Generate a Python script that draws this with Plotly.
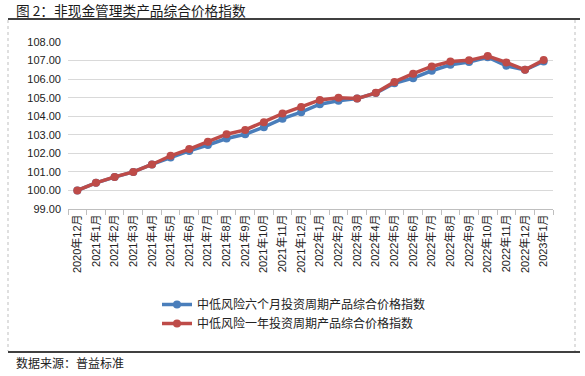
import plotly.graph_objects as go

months = ["2020年12月", "2021年1月", "2021年2月", "2021年3月", "2021年4月", "2021年5月",
          "2021年6月", "2021年7月", "2021年8月", "2021年9月", "2021年10月", "2021年11月",
          "2021年12月", "2022年1月", "2022年2月", "2022年3月", "2022年4月", "2022年5月",
          "2022年6月", "2022年7月", "2022年8月", "2022年9月", "2022年10月", "2022年11月",
          "2022年12月", "2023年1月"]

six_month = [100.00, 100.41, 100.72, 101.00, 101.40, 101.78, 102.13, 102.45, 102.80, 103.03,
             103.41, 103.87, 104.22, 104.65, 104.83, 104.95, 105.25, 105.78, 106.05, 106.45,
             106.77, 106.92, 107.18, 106.72, 106.50, 106.95]

one_year = [100.00, 100.41, 100.73, 101.00, 101.40, 101.87, 102.23, 102.63, 103.03, 103.26,
            103.68, 104.14, 104.50, 104.88, 105.00, 104.95, 105.26, 105.85, 106.29, 106.68,
            106.95, 107.01, 107.24, 106.90, 106.50, 107.03]

series_names = ["中低风险六个月投资周期产品综合价格指数", "中低风险一年投资周期产品综合价格指数"]
y_ticks = [99, 100, 101, 102, 103, 104, 105, 106, 107, 108]

title_text = "图 2：非现金管理类产品综合价格指数"
source_text = "数据来源：普益标准"

BLUE = "#4A7EBB"
RED = "#BE4B48"
CJK = "Noto Sans CJK SC"
LAT = "Liberation Sans, Noto Sans CJK SC"

W, H = 585, 376
L, R, T, B = 68, 553, 42, 209
pw, ph = R - L, B - T

def px(x):
    return (x - L) / pw

def py(y):
    return (B - y) / ph

fig = go.Figure()
fig.add_trace(go.Scatter(x=months, y=six_month, name=series_names[0], mode="lines+markers",
                         line=dict(color=BLUE, width=3.5), marker=dict(color=BLUE, size=8)))
fig.add_trace(go.Scatter(x=months, y=one_year, name=series_names[1], mode="lines+markers",
                         line=dict(color=RED, width=3.5), marker=dict(color=RED, size=8)))

fig.update_layout(
    width=W, height=H,
    margin=dict(l=L, r=W - R, t=T, b=H - B, pad=0),
    paper_bgcolor="white", plot_bgcolor="white",
    showlegend=True,
    legend=dict(x=px(157), y=py(290), xanchor="left", yanchor="top",
                font=dict(family=CJK, size=12, color="#222222"),
                bgcolor="rgba(0,0,0,0)", itemwidth=30, tracegroupgap=0),
    xaxis=dict(type="category", tickangle=-90, tickson="boundaries", ticks="outside",
               ticklen=5, tickcolor="#bfbfbf", showgrid=False, showline=True,
               linecolor="#bfbfbf", linewidth=1,
               tickfont=dict(family=LAT, size=11, color="#222222"),
               range=[-0.5, len(months) - 0.5]),
    yaxis=dict(range=[99, 108], tickvals=y_ticks, tickformat=".2f",
               showgrid=True, gridcolor="#d9d9d9", gridwidth=1, zeroline=False,
               showline=False, ticks="", ticklabelstandoff=6,
               tickfont=dict(family=LAT, size=11, color="#222222")),
)

shapes = [
    dict(type="line", xref="paper", yref="paper", x0=px(8), x1=px(580), y0=py(19), y1=py(19),
         line=dict(color="black", width=1.5)),
    dict(type="line", xref="paper", yref="paper", x0=px(8), x1=px(580), y0=py(352), y1=py(352),
         line=dict(color="black", width=1.5)),
    dict(type="line", xref="paper", yref="paper", x0=px(8), x1=px(8), y0=py(20), y1=py(351),
         line=dict(color="#bfbfbf", width=1, dash="dot")),
    dict(type="line", xref="paper", yref="paper", x0=px(575), x1=px(575), y0=py(20), y1=py(351),
         line=dict(color="#bfbfbf", width=1, dash="dot")),
]
fig.update_layout(shapes=shapes)

fig.add_annotation(text=title_text, xref="paper", yref="paper", x=px(14), y=py(10),
                   xanchor="left", yanchor="middle", showarrow=False,
                   font=dict(family=CJK, size=13.7, color="#1a1a1a"))
fig.add_annotation(text=source_text, xref="paper", yref="paper", x=px(14), y=py(362),
                   xanchor="left", yanchor="middle", showarrow=False,
                   font=dict(family=CJK, size=12, color="#222222"))

fig.write_html("out.html", config={"displayModeBar": False},
               post_script="document.body.style.margin='0';document.body.style.overflow='hidden';")
